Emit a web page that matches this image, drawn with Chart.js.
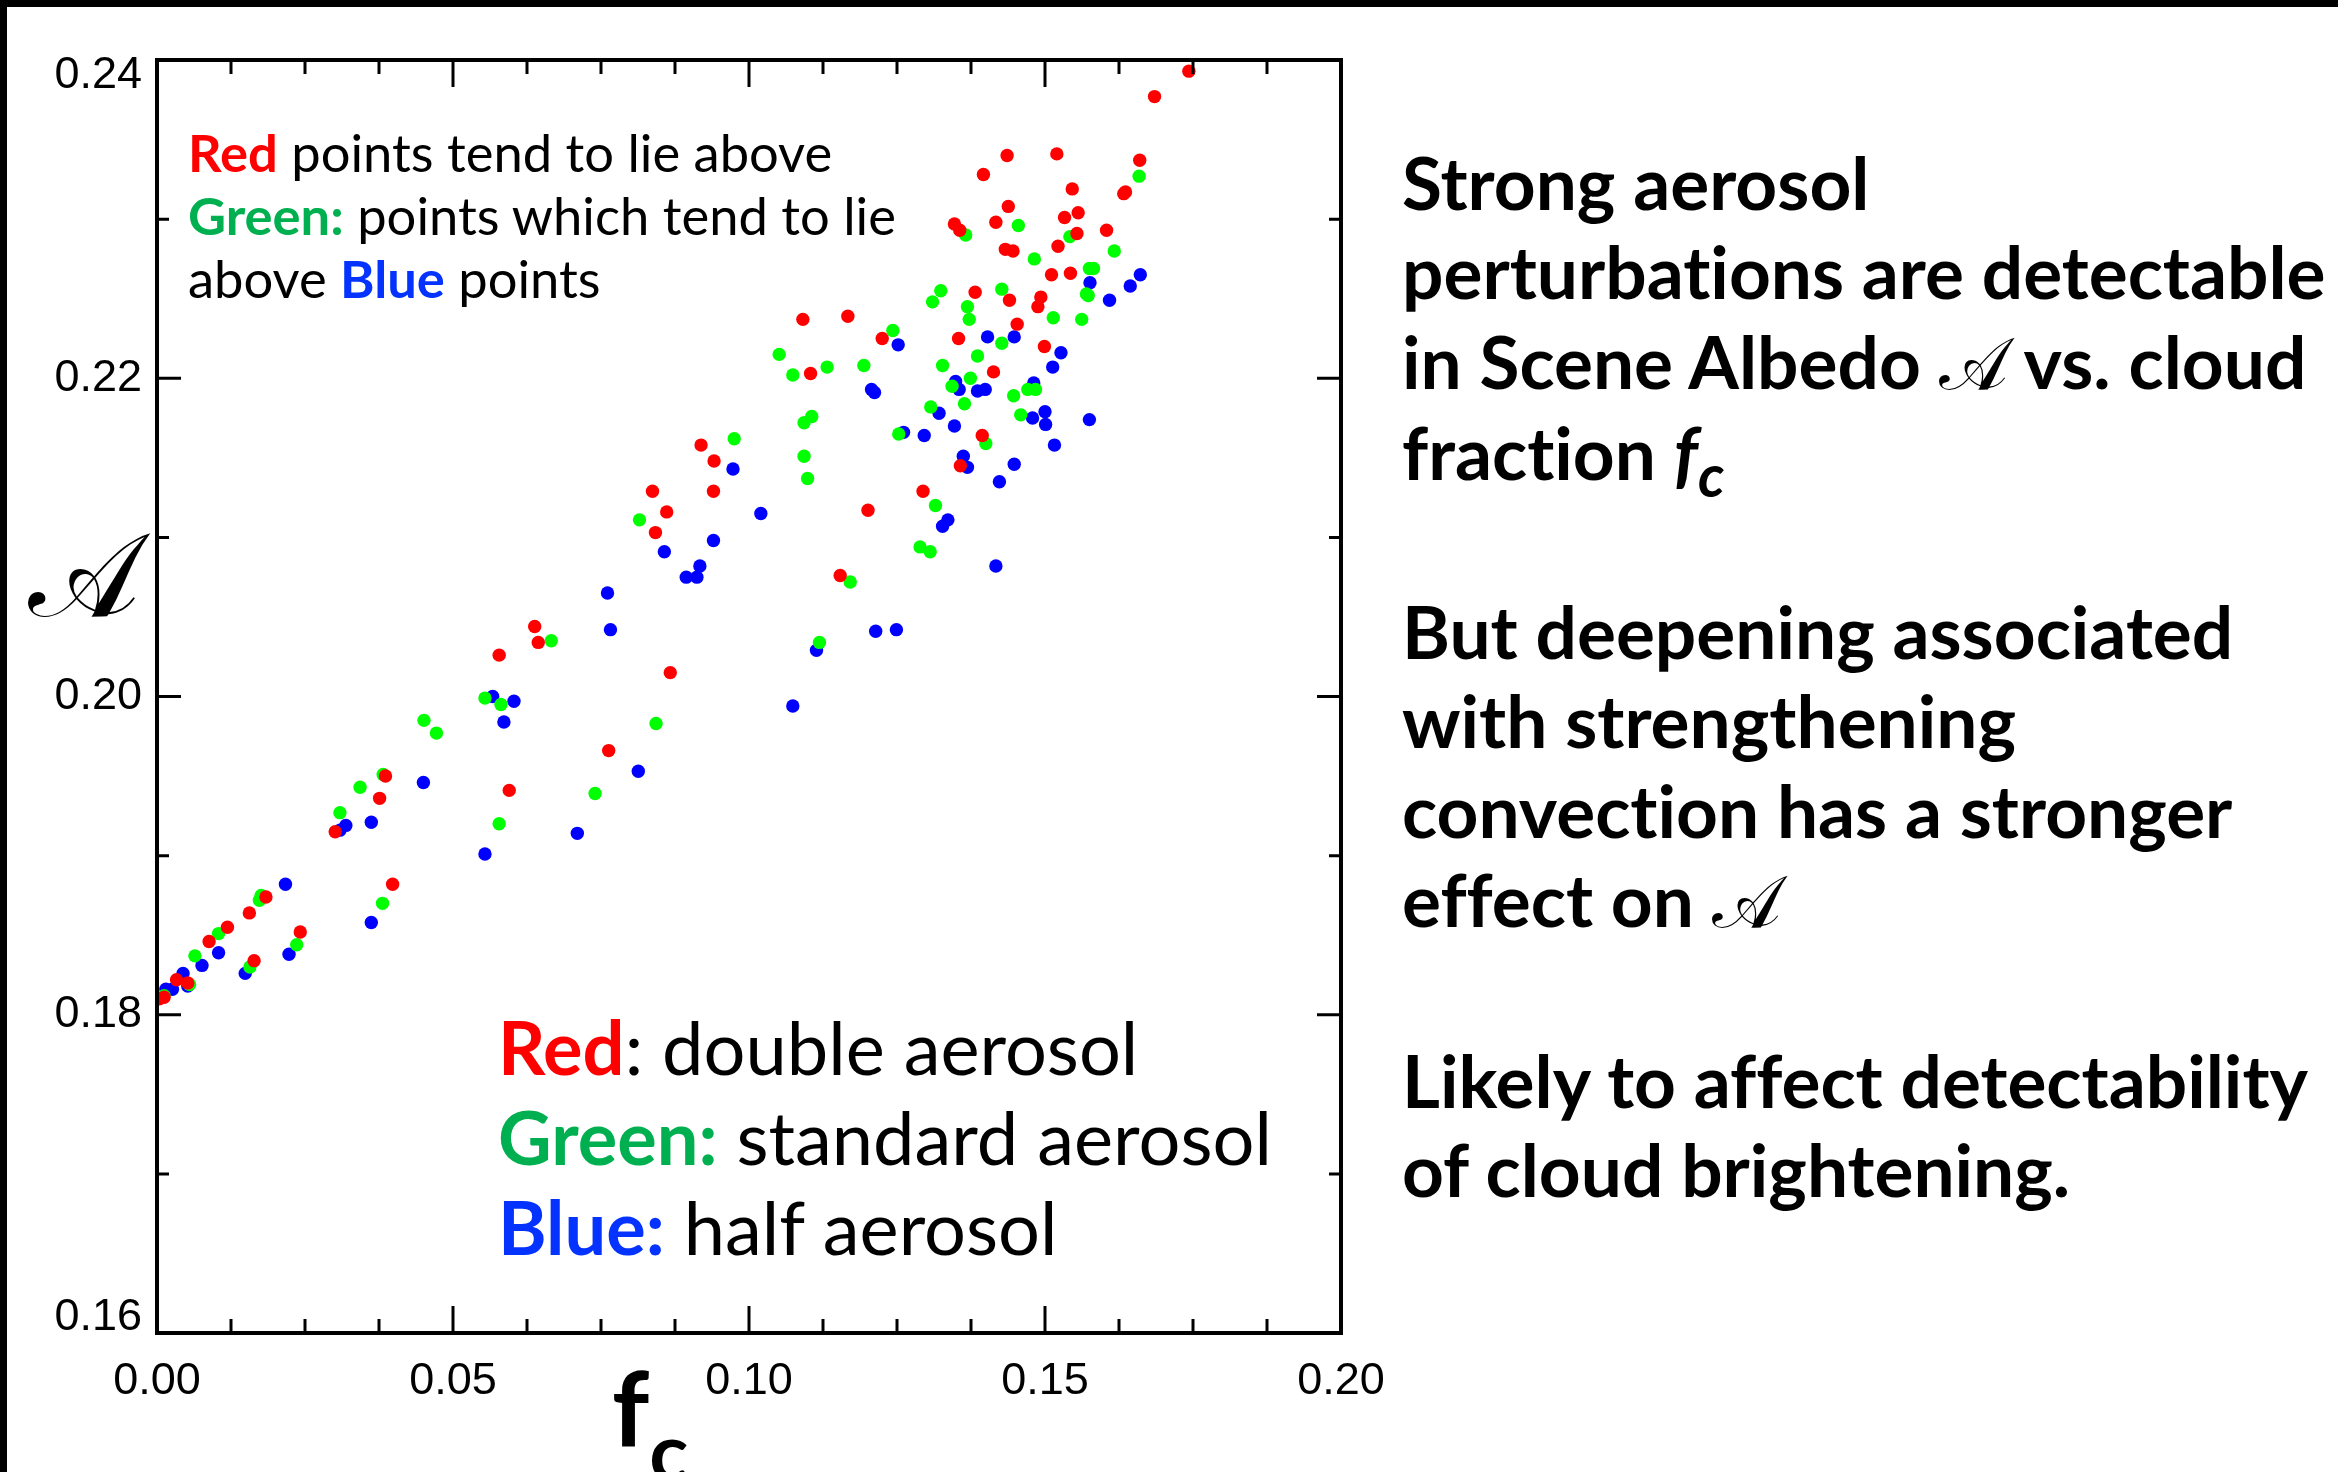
<!DOCTYPE html>
<html>
<head>
<meta charset="utf-8">
<script src="https://cdn.jsdelivr.net/npm/chart.js@4.4.1/dist/chart.umd.min.js"></script>
<style>
  html, body { margin: 0; padding: 0; background: #fff; }
  body { width: 2338px; height: 1472px; overflow: hidden; position: relative; }
  canvas { position: absolute; left: 0; top: 0; }
  #frame {
    position: absolute; left: 0; top: 0; width: 2338px; height: 1472px;
    border-top: 7px solid #000; border-left: 7px solid #000;
    box-sizing: border-box; pointer-events: none;
  }
  .txt {
    position: absolute; font-family: Lato, sans-serif; color: #000; white-space: nowrap;
    font-variant-ligatures: none;
  }
  .r { color: #ff0000; font-weight: 700; }
  .g { color: #00b050; font-weight: 700; }
  .b { color: #0433ff; font-weight: 700; }
  .cal { font-family: "DejaVu Serif", "DejaVu Sans", serif; font-weight: 400; }
  .sub { position: relative; top: 0.28em; font-size: 0.8em; line-height: 0; }

  #note { left: 188px; top: 120px; font-size: 52.5px; line-height: 63px; }
  #key  { left: 498px; top: 1002px; font-size: 74px; line-height: 90px; }
  #side { left: 1402px; top: 138px; font-size: 73px; line-height: 89.4px; font-weight: 700; }
  #ylab { left: 28px; top: 495px; font-size: 118px; line-height: 160px; }
  #xlab { left: 612px; top: 1342px; font-size: 104px; line-height: 130px; font-weight: 700; }
  #xlab .sub { top: 0.42em; font-size: 0.78em; }
</style>
</head>
<body>
<canvas id="chart" width="2338" height="1472"></canvas>

<div id="note" class="txt"><span class="r">Red</span> points tend to lie above<br><span class="g">Green:</span> points which tend to lie<br>above <span class="b">Blue</span> points</div>

<div id="key" class="txt"><span class="r">Red</span>: double aerosol<br><span class="g">Green:</span> standard aerosol<br><span class="b">Blue:</span> half aerosol</div>

<div id="side" class="txt">Strong aerosol<br>perturbations are detectable<br>in Scene Albedo <span class="cal">𝒜</span> vs. cloud<br>fraction <i>f</i><span class="sub"><i>c</i></span><br><br>But deepening associated<br>with strengthening<br>convection has a stronger<br>effect on <span class="cal">𝒜</span><br><br>Likely to affect detectability<br>of cloud brightening.</div>

<div id="ylab" class="txt cal">𝒜</div>
<div id="xlab" class="txt">f<span class="sub">c</span></div>

<div id="frame"></div>

<script>
// cloud fraction f_c (x) and scene albedo A (y)
const redF = [0.0004, 0.0012, 0.0033, 0.0052, 0.0088, 0.0119, 0.0156, 0.0184, 0.0164, 0.0242,
  0.0398, 0.0301, 0.0376, 0.0386, 0.0861, 0.0842, 0.0638, 0.0644, 0.0578, 0.0867,
  0.0763, 0.0595, 0.0919, 0.0941, 0.0837, 0.0940, 0.1511, 0.1543, 0.1382, 0.1440,
  0.1493, 0.1488, 0.1091, 0.1167, 0.1225, 0.1453, 0.1354, 0.1499, 0.1104, 0.1413,
  0.1394, 0.1357, 0.1294, 0.1201, 0.1154, 0.1743, 0.1685, 0.1436, 0.1520, 0.1660,
  0.1396, 0.1546, 0.1633, 0.1636, 0.1438, 0.1556, 0.1533, 0.1417, 0.1347, 0.1356,
  0.1554, 0.1604, 0.1522, 0.1433, 0.1446];
const redA = [0.1810, 0.1811, 0.1822, 0.1820, 0.1846, 0.1855, 0.1864, 0.1874, 0.1834, 0.1852,
  0.1882, 0.1915, 0.1936, 0.1950, 0.2116, 0.2103, 0.2044, 0.2034, 0.2026, 0.2015,
  0.1966, 0.1941, 0.2158, 0.2148, 0.2129, 0.2129, 0.2265, 0.2266, 0.2254, 0.2249,
  0.2251, 0.2245, 0.2237, 0.2239, 0.2225, 0.2234, 0.2225, 0.2220, 0.2203, 0.2204,
  0.2164, 0.2145, 0.2129, 0.2117, 0.2076, 0.2393, 0.2377, 0.2340, 0.2341, 0.2337,
  0.2328, 0.2319, 0.2316, 0.2317, 0.2308, 0.2304, 0.2301, 0.2298, 0.2297, 0.2293,
  0.2291, 0.2293, 0.2283, 0.2281, 0.2280];

const greenF = [0.0012, 0.0055, 0.0064, 0.0104, 0.0173, 0.0176, 0.0157, 0.0236, 0.0381, 0.0578,
  0.0309, 0.0343, 0.0382, 0.0815, 0.0666, 0.0554, 0.0581, 0.0451, 0.0472, 0.0843,
  0.0740, 0.0975, 0.1482, 0.1575, 0.1582, 0.1570, 0.1573, 0.1427, 0.1324, 0.1310,
  0.1369, 0.1372, 0.1243, 0.1514, 0.1562, 0.1427, 0.1051, 0.1074, 0.1132, 0.1194,
  0.1386, 0.1327, 0.1374, 0.1343, 0.1471, 0.1484, 0.1447, 0.1364, 0.1307, 0.1459,
  0.1106, 0.1093, 0.1253, 0.1400, 0.1093, 0.1099, 0.1315, 0.1289, 0.1306, 0.1171,
  0.1119, 0.1659, 0.1366, 0.1455, 0.1542, 0.1617];
const greenA = [0.1812, 0.1819, 0.1837, 0.1851, 0.1872, 0.1875, 0.1830, 0.1844, 0.1870, 0.1920,
  0.1927, 0.1943, 0.1951, 0.2111, 0.2035, 0.1999, 0.1995, 0.1985, 0.1977, 0.1983,
  0.1939, 0.2162, 0.2275, 0.2269, 0.2269, 0.2253, 0.2252, 0.2256, 0.2255, 0.2248,
  0.2245, 0.2237, 0.2230, 0.2238, 0.2237, 0.2222, 0.2215, 0.2202, 0.2207, 0.2208,
  0.2214, 0.2208, 0.2200, 0.2195, 0.2193, 0.2193, 0.2189, 0.2184, 0.2182, 0.2177,
  0.2176, 0.2172, 0.2165, 0.2159, 0.2151, 0.2137, 0.2120, 0.2094, 0.2091, 0.2072,
  0.2034, 0.2327, 0.2290, 0.2296, 0.2289, 0.2280];

const blueF = [0.0015, 0.0026, 0.0044, 0.0052, 0.0076, 0.0104, 0.0217, 0.0149, 0.0223, 0.0362,
  0.0309, 0.0319, 0.0362, 0.0554, 0.0710, 0.0940, 0.0857, 0.0917, 0.0894, 0.0912,
  0.0761, 0.0766, 0.0567, 0.0603, 0.0586, 0.1074, 0.0813, 0.0450, 0.0973, 0.1576,
  0.1661, 0.1644, 0.1609, 0.1252, 0.1403, 0.1448, 0.1527, 0.1513, 0.1349, 0.1355,
  0.1386, 0.1399, 0.1207, 0.1212, 0.1481, 0.1321, 0.1347, 0.1479, 0.1500, 0.1501,
  0.1575, 0.1261, 0.1296, 0.1362, 0.1369, 0.1448, 0.1516, 0.1423, 0.1020, 0.1336,
  0.1327, 0.1417, 0.1114, 0.1214, 0.1249];
const blueA = [0.1816, 0.1816, 0.1826, 0.1818, 0.1831, 0.1839, 0.1882, 0.1826, 0.1838, 0.1858,
  0.1916, 0.1919, 0.1921, 0.1901, 0.1914, 0.2098, 0.2091, 0.2082, 0.2075, 0.2075,
  0.2065, 0.2042, 0.2000, 0.1997, 0.1984, 0.1994, 0.1953, 0.1946, 0.2143, 0.2260,
  0.2265, 0.2258, 0.2249, 0.2221, 0.2226, 0.2226, 0.2216, 0.2207, 0.2198, 0.2193,
  0.2192, 0.2193, 0.2193, 0.2191, 0.2197, 0.2178, 0.2170, 0.2175, 0.2179, 0.2171,
  0.2174, 0.2166, 0.2164, 0.2151, 0.2144, 0.2146, 0.2158, 0.2135, 0.2115, 0.2111,
  0.2107, 0.2082, 0.2029, 0.2041, 0.2042];

const xTickValues = [0, 0.05, 0.10, 0.15, 0.20];
const xTickLabels = ['0.00', '0.05', '0.10', '0.15', '0.20'];
const yTickValues = [0.16, 0.18, 0.20, 0.22, 0.24];
const yTickLabels = ['0.16', '0.18', '0.20', '0.22', '0.24'];

const pts = (xs, ys) => xs.map((x, i) => ({ x, y: ys[i] }));

// inward major/minor ticks on all four sides, plus the box
const boxTicks = {
  id: 'boxTicks',
  afterDatasetsDraw(chart) {
    const { ctx, chartArea: a, scales: { x, y } } = chart;
    ctx.save();
    ctx.strokeStyle = '#000';
    ctx.lineWidth = 3;
    ctx.beginPath();
    for (let i = 0; i <= 16; i++) {
      const px = x.getPixelForValue(i * 0.0125);
      const len = i % 4 === 0 ? 27 : 14;
      ctx.moveTo(px, a.bottom); ctx.lineTo(px, a.bottom - len);
      ctx.moveTo(px, a.top); ctx.lineTo(px, a.top + len);
    }
    for (let i = 0; i <= 8; i++) {
      const py = y.getPixelForValue(0.16 + i * 0.01);
      const len = i % 2 === 0 ? 24 : 12;
      ctx.moveTo(a.left, py); ctx.lineTo(a.left + len, py);
      ctx.moveTo(a.right, py); ctx.lineTo(a.right - len, py);
    }
    ctx.stroke();
    ctx.lineWidth = 4;
    ctx.strokeRect(a.left, a.top, a.right - a.left, a.bottom - a.top);
    ctx.restore();
  }
};

const tickFont = { family: 'Liberation Sans', size: 45, lineHeight: 0.7 };

new Chart(document.getElementById('chart'), {
  type: 'scatter',
  data: {
    datasets: [
      { label: 'double aerosol', data: pts(redF, redA), backgroundColor: '#ff0000' },
      { label: 'standard aerosol', data: pts(greenF, greenA), backgroundColor: '#00ff00' },
      { label: 'half aerosol', data: pts(blueF, blueA), backgroundColor: '#0000ff' },
    ],
  },
  options: {
    responsive: false,
    animation: false,
    devicePixelRatio: 1,
    layout: { padding: { top: 60, right: 997, left: 0, bottom: 0 } },
    elements: { point: { radius: 6.7, hoverRadius: 6.7, borderWidth: 0 } },
    plugins: { legend: { display: false }, tooltip: { enabled: false } },
    scales: {
      x: {
        type: 'linear', min: 0, max: 0.2,
        grid: { display: false, drawTicks: false },
        border: { display: false },
        afterBuildTicks: (s) => { s.ticks = xTickValues.map((value) => ({ value })); },
        afterFit: (s) => { s.height = 139; },
        ticks: {
          color: '#000', font: tickFont, padding: 33, maxRotation: 0, autoSkip: false,
          callback: (v, i) => xTickLabels[i],
        },
      },
      y: {
        type: 'linear', min: 0.16, max: 0.24,
        grid: { display: false, drawTicks: false },
        border: { display: false },
        afterBuildTicks: (s) => { s.ticks = yTickValues.map((value) => ({ value })); },
        afterFit: (s) => { s.width = 157; },
        ticks: {
          color: '#000', font: tickFont, padding: 15, autoSkip: false,
          // end labels sit a little inside the box, as in the original
          callback: (v, i, ticks) => {
            const t = yTickLabels[i];
            if (i === ticks.length - 1) return ['', t];
            if (i === 0) return [t, ''];
            return t;
          },
        },
      },
    },
  },
  plugins: [boxTicks],
});
</script>
</body>
</html>
